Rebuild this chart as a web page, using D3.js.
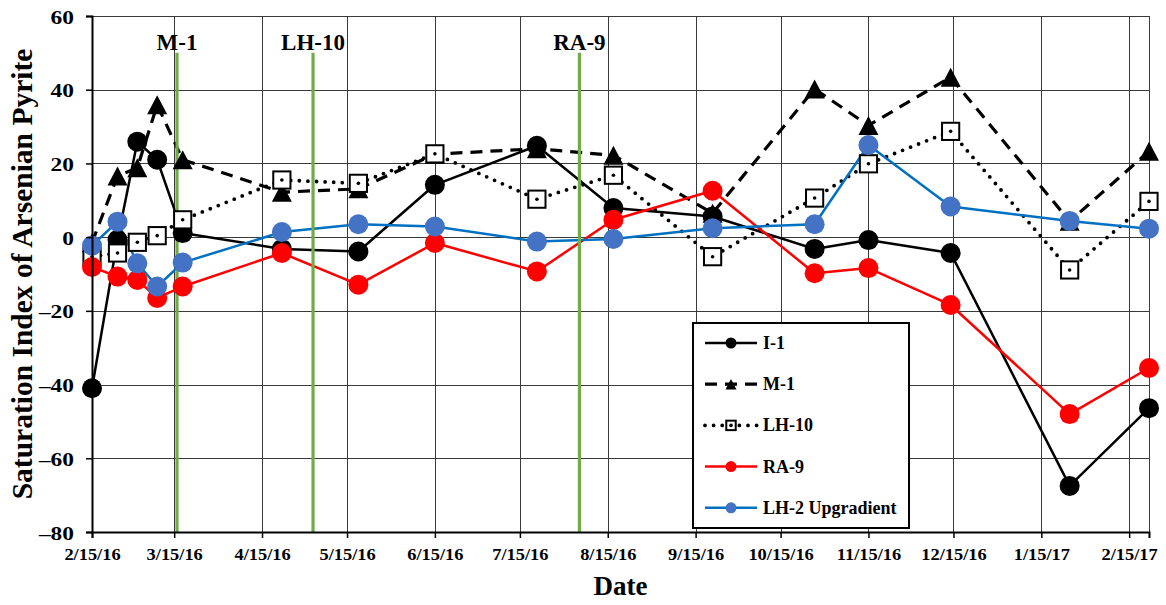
<!DOCTYPE html>
<html>
<head>
<meta charset="utf-8">
<script src="https://cdn.jsdelivr.net/npm/d3@7"></script>
<style>
  body { margin: 0; background: #fff; }
  svg { display: block; }
  text { font-family: "Liberation Serif", "Times New Roman", serif; font-weight: bold; fill: #000; }
</style>
</head>
<body>
<svg id="chart" width="1166" height="605"></svg>
<script>
// Sampling dates shared by all wells
const sampleDates = ["2016-02-15", "2016-02-24", "2016-03-02", "2016-03-09", "2016-03-18",
  "2016-04-22", "2016-05-19", "2016-06-15", "2016-07-21", "2016-08-17", "2016-09-21",
  "2016-10-27", "2016-11-15", "2016-12-14", "2017-01-25", "2017-02-22"];

// Saturation index of arsenian pyrite per well
const seriesNames = ["I-1", "M-1", "LH-10", "RA-9", "LH-2 Upgradient"];
const valuesI1   = [-41.0, -0.7, 25.9, 21.0, 1.1, -3.2, -3.9, 14.2, 24.8, 7.9, 5.6, -3.2, -0.8, -4.3, -67.5, -46.4];
const valuesM1   = [-1.5, 16.6, 18.8, 35.9, 21.0, 12.2, 13.1, 22.5, 24.0, 22.2, 6.5, 40.2, 30.3, 43.4, 4.3, 23.3];
const valuesLH10 = [-5.3, -4.3, -1.4, 0.4, 4.7, 15.5, 14.6, 22.6, 10.3, 16.8, -5.3, 10.6, 19.9, 28.7, -8.9, 9.7];
const valuesRA9  = [-8.1, -10.7, -11.6, -16.5, -13.4, -4.3, -12.9, -1.6, -9.3, 4.7, 12.6, -9.8, -8.4, -18.4, -48.0, -35.5];
const valuesLH2  = [-2.3, 4.2, -7.1, -13.4, -6.9, 1.4, 3.5, 2.9, -1.2, -0.5, 2.4, 3.5, 25.0, 8.3, 4.4, 2.3];

// Treatment start markers
const eventLabels = ["M-1", "LH-10", "RA-9"];
const eventDates = ["2016-03-16", "2016-05-03", "2016-08-05"];
const eventTopValue = 50;

// Axis ticks
const yTicks = [-80, -60, -40, -20, 0, 20, 40, 60];
const xTickDates = ["2016-02-15", "2016-03-15", "2016-04-15", "2016-05-15", "2016-06-15",
  "2016-07-15", "2016-08-15", "2016-09-15", "2016-10-15", "2016-11-15", "2016-12-15",
  "2017-01-15", "2017-02-15"];
const xDomain = ["2016-02-15", "2017-02-22"];
const yDomain = [-80, 60];

const parse = d3.timeParse("%Y-%m-%d");
const fmt = d3.timeFormat("%-m/%-d/%y");

const svg = d3.select("#chart");
const plotLeft = 92, plotRight = 1149, plotTop = 16, plotBottom = 532;

const x = d3.scaleTime().domain(xDomain.map(parse)).range([plotLeft, plotRight]);
const y = d3.scaleLinear().domain(yDomain).range([plotBottom, plotTop]);

const dates = sampleDates.map(parse);
const allValues = [valuesI1, valuesM1, valuesLH10, valuesRA9, valuesLH2];
const styles = [
  { line: "#000", width: 2.5, dash: null, cap: "butt", marker: "circle", fill: "#000" },
  { line: "#000", width: 3.2, dash: "12 8", cap: "butt", marker: "triangle", fill: "#000" },
  { line: "#000", width: 3.8, dash: "0 8.6", cap: "round", marker: "square", fill: "#fff" },
  { line: "#FF0000", width: 2.5, dash: null, cap: "butt", marker: "circle", fill: "#FF0000" },
  { line: "#0070C0", width: 2.5, dash: null, cap: "butt", marker: "circle", fill: "#4472C4" }
];
const series = seriesNames.map((name, i) => ({
  name, style: styles[i],
  points: dates.map((d, j) => ({ date: d, v: allValues[i][j] }))
}));

// Grid
const grid = svg.append("g").attr("stroke", "#3a3a3a").attr("stroke-width", 1).attr("shape-rendering", "crispEdges");
grid.selectAll(".h").data(yTicks.filter(t => t > yDomain[0])).join("line")
  .attr("x1", plotLeft).attr("x2", plotRight)
  .attr("y1", d => Math.round(y(d)) + 0.5).attr("y2", d => Math.round(y(d)) + 0.5);
const xTicks = xTickDates.map(parse);
grid.selectAll(".v").data(xTicks.slice(1).concat([x.domain()[1]])).join("line")
  .attr("y1", plotTop).attr("y2", plotBottom)
  .attr("x1", d => Math.round(x(d)) + 0.5).attr("x2", d => Math.round(x(d)) + 0.5);

// Series lines
const line = d3.line().x(d => x(d.date)).y(d => y(d.v));
const lines = svg.append("g");
series.forEach(s => {
  lines.append("path").datum(s.points)
    .attr("d", line)
    .attr("fill", "none")
    .attr("stroke", s.style.line)
    .attr("stroke-width", s.style.width)
    .attr("stroke-dasharray", s.style.dash)
    .attr("stroke-linecap", s.style.cap)
    .attr("stroke-linejoin", "round");
});

// Treatment start lines
const events = eventDates.map((d, i) => ({ date: parse(d), label: eventLabels[i] }));
svg.append("g").selectAll("line").data(events).join("line")
  .attr("x1", d => x(d.date)).attr("x2", d => x(d.date))
  .attr("y1", y(eventTopValue)).attr("y2", plotBottom)
  .attr("stroke", "#70AD47").attr("stroke-width", 3.2);
svg.append("g").selectAll("text").data(events).join("text")
  .attr("x", d => x(d.date)).attr("y", y(eventTopValue) - 3)
  .attr("text-anchor", "middle").attr("font-size", 23)
  .text(d => d.label);

// Markers
function drawMarker(g, type, cx, cy, size, fill) {
  if (type === "circle") {
    g.append("circle").attr("cx", cx).attr("cy", cy).attr("r", size / 2).attr("fill", fill);
  } else if (type === "triangle") {
    const w = size, h = size * 0.95;
    g.append("path")
      .attr("d", `M${cx},${cy - h / 2}L${cx + w / 2},${cy + h / 2}L${cx - w / 2},${cy + h / 2}Z`)
      .attr("fill", fill);
  } else {
    const s = size * 0.86;
    g.append("rect").attr("x", cx - s / 2).attr("y", cy - s / 2).attr("width", s).attr("height", s)
      .attr("fill", fill).attr("stroke", "#000").attr("stroke-width", 2);
    g.append("circle").attr("cx", cx).attr("cy", cy).attr("r", 1.8).attr("fill", "#000");
  }
}
const markers = svg.append("g");
series.forEach(s => {
  s.points.forEach(p => drawMarker(markers, s.style.marker, x(p.date), y(p.v), 20, s.style.fill));
});

// Axes
const yAxis = svg.append("g").attr("transform", `translate(${plotLeft},0)`)
  .call(d3.axisLeft(y).tickValues(yTicks).tickSize(6).tickFormat(d3.format("d")));
yAxis.select(".domain").attr("stroke-width", 2);
yAxis.selectAll(".tick line").attr("stroke-width", 1.5);
yAxis.selectAll(".tick text")
  .attr("font-family", null).attr("font-size", 18)
  .attr("x", null).attr("dy", null)
  .attr("dominant-baseline", "central")
  .attr("transform", "translate(-18,1) scale(1.3,1)")
  .text(d => d < 0 ? "\u2013" + Math.abs(d) : d);

const xAxis = svg.append("g").attr("transform", `translate(0,${plotBottom})`)
  .call(d3.axisBottom(x).tickValues(xTicks).tickSize(6).tickFormat(fmt));
xAxis.select(".domain").attr("stroke-width", 2);
xAxis.selectAll(".tick line").attr("stroke-width", 1.5);
xAxis.selectAll(".tick text")
  .attr("font-family", null).attr("font-size", 16)
  .attr("y", null).attr("dy", null)
  .attr("transform", "translate(0,28) scale(1.15,1)");
svg.selectAll(".domain").attr("stroke", "#000");

// Axis titles
svg.append("text").attr("x", (plotLeft + plotRight) / 2).attr("y", 595)
  .attr("text-anchor", "middle").attr("font-size", 27).text("Date");
svg.append("text").attr("transform", `translate(32,${(plotTop + plotBottom) / 2}) rotate(-90)`)
  .attr("text-anchor", "middle").attr("font-size", 29.5).text("Saturation Index of Arsenian Pyrite");

// Legend
const lg = svg.append("g").attr("transform", "translate(693,323)");
lg.append("rect").attr("width", 216).attr("height", 205).attr("fill", "#fff")
  .attr("stroke", "#000").attr("stroke-width", 2);
series.forEach((s, i) => {
  const ry = 20 + i * 41.2;
  lg.append("line").attr("x1", 12).attr("x2", 64).attr("y1", ry).attr("y2", ry)
    .attr("stroke", s.style.line).attr("stroke-width", s.style.width)
    .attr("stroke-dasharray", s.style.dash).attr("stroke-linecap", s.style.cap);
  drawMarker(lg, s.style.marker, 38, ry, 11, s.style.fill);
  lg.append("text").attr("x", 70).attr("y", ry + 6).attr("font-size", 18).text(s.name);
});
</script>
</body>
</html>
